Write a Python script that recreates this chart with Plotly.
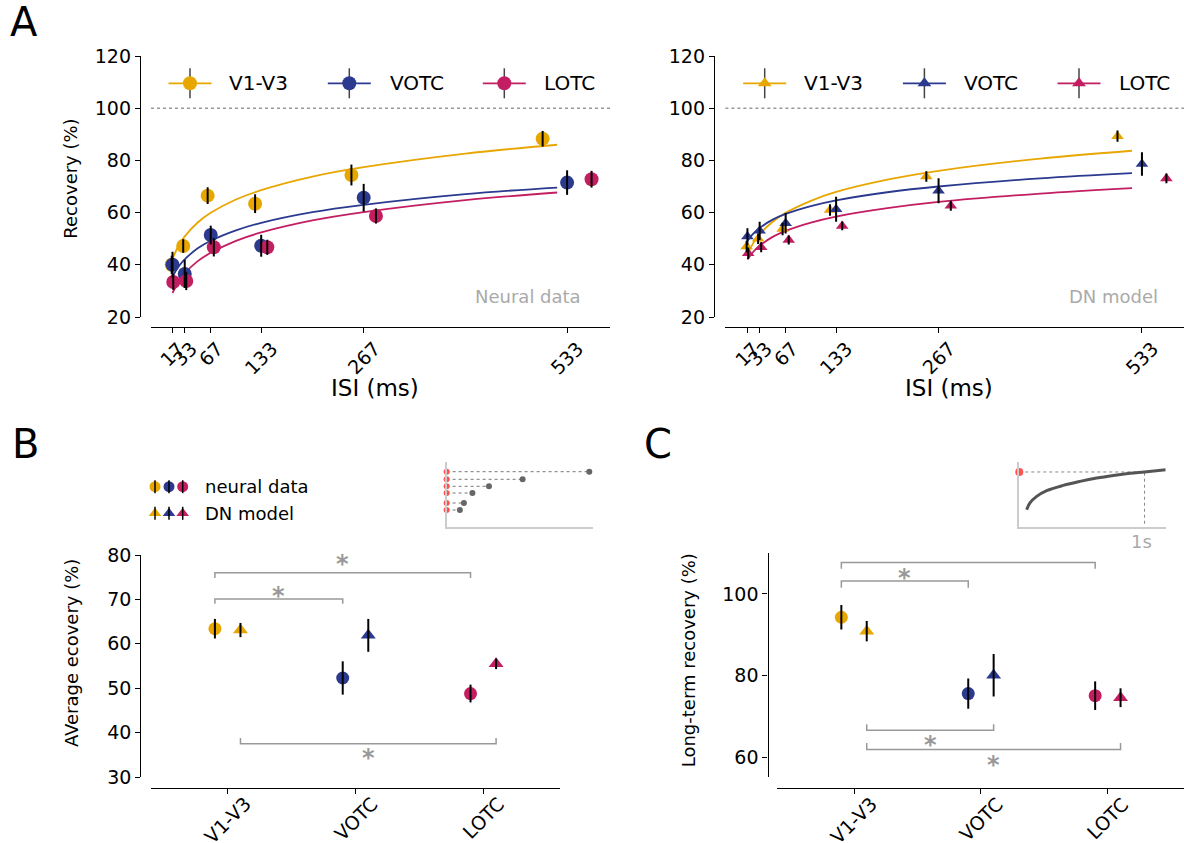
import plotly.graph_objects as go

W, H = 1184, 843


def px(x):
    return x / W


def py(y):
    return 1 - y / H


FONT = "DejaVu Sans"
REGIONS = ["V1-V3", "VOTC", "LOTC"]
COLORS = ["#E8A600", "#2B3A8F", "#C31E62"]

# ---------------- Panel A data ----------------
ISI = [17, 33, 67, 133, 267, 533]
ISI_LABELS = ["17", "33", "67", "133", "267", "533"]

neural_v1v3 = [40.0, 47.2, 66.5, 63.4, 74.4, 88.3]
neural_v1v3_err = [3.5, 2.6, 3.2, 3.6, 4.0, 3.0]
neural_votc = [40.0, 36.5, 51.4, 47.3, 65.7, 71.5]
neural_votc_err = [5.0, 5.4, 3.6, 4.2, 5.3, 4.7]
neural_lotc = [33.4, 33.8, 46.7, 46.7, 58.7, 72.8]
neural_lotc_err = [3.0, 3.5, 3.5, 2.9, 2.9, 3.2]

model_v1v3 = [47.0, 50.0, 53.7, 61.0, 73.8, 89.3]
model_v1v3_err = [2.2, 2.0, 2.4, 2.2, 2.0, 2.2]
model_votc = [50.8, 53.0, 55.9, 61.3, 68.4, 78.6]
model_votc_err = [3.2, 3.5, 3.9, 4.8, 4.8, 4.5]
model_lotc = [44.4, 46.7, 49.5, 54.9, 62.6, 73.1]
model_lotc_err = [2.2, 1.9, 1.7, 1.7, 1.9, 1.9]

# fitted curves
FIT_ISI = [17, 25, 33, 50, 67, 100, 133, 200, 267, 400, 520]
fit_neural_v1v3 = [42.3, 47.3, 50.9, 56.2, 59.9, 65.0, 68.6, 73.8, 77.4, 82.6, 86.0]
fit_neural_votc = [35.5, 39.4, 42.1, 46.3, 49.2, 53.2, 56.1, 60.2, 63.0, 67.1, 69.6]
fit_neural_lotc = [29.2, 33.5, 36.7, 41.4, 44.6, 49.2, 52.4, 57.0, 60.2, 64.8, 67.7]
fit_model_v1v3 = [44.0, 48.5, 51.7, 56.5, 59.9, 64.5, 67.9, 72.6, 76.0, 80.7, 83.7]
fit_model_votc = [49.1, 52.0, 54.1, 57.3, 59.5, 62.5, 64.7, 67.8, 70.0, 73.1, 75.1]
fit_model_lotc = [42.0, 45.1, 47.3, 50.7, 53.0, 56.2, 58.5, 61.7, 64.1, 67.3, 69.4]

# ---------------- Panel B data ----------------
avg_neural = [63.4, 52.3, 48.8]
avg_neural_err = [2.2, 3.75, 2.0]
avg_model = [63.1, 61.9, 55.5]
avg_model_err = [1.6, 3.7, 1.2]

# ---------------- Panel C data ----------------
lt_neural = [94.3, 75.6, 75.1]
lt_neural_err = [3.0, 3.7, 3.5]
lt_model = [90.9, 80.1, 74.6]
lt_model_err = [2.5, 5.2, 2.3]

# ---------------- insets ----------------
inset_b_row = [16.7, 23.7, 33.7, 40.4, 47.4, 55.0]   # rows for ISI 17..533
inset_b_stim_ms = 36
inset_c_t = [0.059, 0.085, 0.139, 0.219, 0.351, 0.485, 0.618, 0.751, 0.884, 1.0, 1.169]
inset_c_r = [0.262, 0.365, 0.466, 0.554, 0.635, 0.697, 0.749, 0.789, 0.822, 0.842, 0.875]
inset_c_long = 0.842

REGION_OFFSET_A = [0.94, 1.0, 1.06]
REGION_SHIFT = 0.1

fig = go.Figure()

axis_common = dict(showgrid=False, zeroline=False, showline=True, linecolor="black",
                   linewidth=1.3, ticks="outside", ticklen=5, tickwidth=1.3,
                   tickcolor="black", tickfont=dict(size=19, family=FONT, color="black"))

# ---------- Panel A ----------
neural_vals = [neural_v1v3, neural_votc, neural_lotc]
neural_errs = [neural_v1v3_err, neural_votc_err, neural_lotc_err]
model_vals = [model_v1v3, model_votc, model_lotc]
model_errs = [model_v1v3_err, model_votc_err, model_lotc_err]
fit_neural = [fit_neural_v1v3, fit_neural_votc, fit_neural_lotc]
fit_model = [fit_model_v1v3, fit_model_votc, fit_model_lotc]

for (xa, ya, vals, errs, fits, sym, msize) in [
    ("x", "y", neural_vals, neural_errs, fit_neural, "circle", 14),
    ("x2", "y2", model_vals, model_errs, fit_model, "triangle-up", 11),
]:
    for i in range(3):
        fig.add_trace(go.Scatter(x=FIT_ISI, y=fits[i], mode="lines", line=dict(color=COLORS[i], width=1.8, shape="spline"),
                                 xaxis=xa, yaxis=ya, hoverinfo="skip"))
    for i in range(3):
        xs = [t * REGION_OFFSET_A[i] for t in ISI]
        fig.add_trace(go.Scatter(x=xs, y=vals[i], mode="markers",
                                 marker=dict(color=COLORS[i], size=msize, symbol=sym, line=dict(width=0)),
                                 xaxis=xa, yaxis=ya, cliponaxis=False))
    for i in range(3):
        xs = [t * REGION_OFFSET_A[i] for t in ISI]
        fig.add_trace(go.Scatter(x=xs, y=vals[i], mode="markers",
                                 marker=dict(color="rgba(0,0,0,0)", size=1),
                                 error_y=dict(type="data", array=errs[i], color="black", thickness=2, width=0),
                                 xaxis=xa, yaxis=ya, cliponaxis=False))

# ---------- Panels B and C ----------
for (xa, ya, nv, ne, mv, me) in [
    ("x3", "y3", avg_neural, avg_neural_err, avg_model, avg_model_err),
    ("x4", "y4", lt_neural, lt_neural_err, lt_model, lt_model_err),
]:
    for i in range(3):
        fig.add_trace(go.Scatter(x=[i - REGION_SHIFT], y=[nv[i]], mode="markers",
                                 marker=dict(color=COLORS[i], size=13, symbol="circle"),
                                 xaxis=xa, yaxis=ya, cliponaxis=False))
        fig.add_trace(go.Scatter(x=[i + REGION_SHIFT], y=[mv[i]], mode="markers",
                                 marker=dict(color=COLORS[i], size=13, symbol="triangle-up"),
                                 xaxis=xa, yaxis=ya, cliponaxis=False))
    fig.add_trace(go.Scatter(x=[i - REGION_SHIFT for i in range(3)], y=nv, mode="markers",
                             marker=dict(color="rgba(0,0,0,0)", size=1),
                             error_y=dict(type="data", array=ne, color="black", thickness=2, width=0),
                             xaxis=xa, yaxis=ya, cliponaxis=False))
    fig.add_trace(go.Scatter(x=[i + REGION_SHIFT for i in range(3)], y=mv, mode="markers",
                             marker=dict(color="rgba(0,0,0,0)", size=1),
                             error_y=dict(type="data", array=me, color="black", thickness=2, width=0),
                             xaxis=xa, yaxis=ya, cliponaxis=False))

# ---------- Inset B ----------
red = "#FF5252"
for k, t in enumerate(ISI):
    fig.add_trace(go.Scatter(x=[0, t + inset_b_stim_ms], y=[inset_b_row[k]] * 2, mode="lines",
                             line=dict(color="#777777", width=1, dash="dot"),
                             xaxis="x5", yaxis="y5", hoverinfo="skip"))
fig.add_trace(go.Scatter(x=[t + inset_b_stim_ms for t in ISI], y=inset_b_row, mode="markers",
                         marker=dict(color="#666666", size=6), xaxis="x5", yaxis="y5", cliponaxis=False))
fig.add_trace(go.Scatter(x=[0] * len(ISI), y=inset_b_row, mode="markers",
                         marker=dict(color=red, size=6), xaxis="x5", yaxis="y5", cliponaxis=False))

# ---------- Inset C ----------
fig.add_trace(go.Scatter(x=[0, 1.0, 1.0], y=[inset_c_long, inset_c_long, 0], mode="lines",
                         line=dict(color="#888888", width=1, dash="dot"),
                         xaxis="x6", yaxis="y6", hoverinfo="skip"))
fig.add_trace(go.Scatter(x=inset_c_t, y=inset_c_r, mode="lines", line=dict(color="#555555", width=3, shape="spline"),
                         xaxis="x6", yaxis="y6", hoverinfo="skip"))
fig.add_trace(go.Scatter(x=[0], y=[inset_c_long], mode="markers", marker=dict(color=red, size=8),
                         xaxis="x6", yaxis="y6", cliponaxis=False))

# ---------- Legend glyphs (overlay in pixel space) ----------
LEG_Y = 83.3
leg_sets = [
    ([190, 349.3, 504.3], [226.7, 387.5, 542], "circle", 14),
    ([764.7, 924.4, 1079], [801.8, 962, 1117], "triangle-up", 12),
]
annotations = []
for mx, tx, sym, ms in leg_sets:
    for i in range(3):
        fig.add_trace(go.Scatter(x=[mx[i] - 21.5, mx[i] + 21.5], y=[LEG_Y, LEG_Y], mode="lines",
                                 line=dict(color=COLORS[i], width=1.8), xaxis="x7", yaxis="y7", hoverinfo="skip"))
        fig.add_trace(go.Scatter(x=[mx[i], mx[i]], y=[LEG_Y - 15, LEG_Y + 15], mode="lines",
                                 line=dict(color="#444444", width=1.5), xaxis="x7", yaxis="y7", hoverinfo="skip"))
        fig.add_trace(go.Scatter(x=[mx[i]], y=[LEG_Y], mode="markers",
                                 marker=dict(color=COLORS[i], size=ms, symbol=sym),
                                 xaxis="x7", yaxis="y7", cliponaxis=False))
        annotations.append(dict(x=px(tx[i]), y=py(LEG_Y), xref="paper", yref="paper", text=REGIONS[i],
                                showarrow=False, xanchor="left", yanchor="middle",
                                font=dict(size=20, family=FONT, color="black")))

legB_x = [155, 169, 182.7]
for row_y, sym, label in [(486.7, "circle", "neural data"), (513.3, "triangle-up", "DN model")]:
    for i in range(3):
        fig.add_trace(go.Scatter(x=[legB_x[i]], y=[row_y], mode="markers",
                                 marker=dict(color=COLORS[i], size=11, symbol=sym),
                                 xaxis="x7", yaxis="y7", cliponaxis=False))
        fig.add_trace(go.Scatter(x=[legB_x[i], legB_x[i]], y=[row_y - 6.5, row_y + 6.5], mode="lines",
                                 line=dict(color="black", width=1.5), xaxis="x7", yaxis="y7", hoverinfo="skip"))
    annotations.append(dict(x=px(202.7), y=py(row_y), xref="paper", yref="paper", text=label,
                            showarrow=False, xanchor="left", yanchor="middle",
                            font=dict(size=18, family=FONT, color="black")))

# ---------- Layout axes ----------
yA = [py(317), py(56)]
layout = dict(
    xaxis=dict(axis_common, domain=[px(151), px(610)], anchor="free", position=py(327), range=[-11.1, 589.1],
               tickvals=ISI, showticklabels=False),
    yaxis=dict(axis_common, domain=yA, anchor="free", position=px(140), range=[20, 120],
               tickvals=[20, 40, 60, 80, 100, 120]),
    xaxis2=dict(axis_common, domain=[px(725.4), 1.0], anchor="free", position=py(327), range=[-11.8, 588],
                tickvals=ISI, showticklabels=False),
    yaxis2=dict(axis_common, domain=yA, anchor="free", position=px(714), range=[20, 120],
                tickvals=[20, 40, 60, 80, 100, 120]),
    xaxis3=dict(axis_common, domain=[px(151), px(560)], anchor="free", position=py(788), range=[-0.6, 2.6],
                tickvals=[0, 1, 2], showticklabels=False),
    yaxis3=dict(axis_common, domain=[py(777), py(555)], anchor="free", position=px(140.4), range=[30, 80],
                tickvals=[30, 40, 50, 60, 70, 80]),
    xaxis4=dict(axis_common, domain=[px(777), 1.0], anchor="free", position=py(788), range=[-0.607, 2.6],
                tickvals=[0, 1, 2], showticklabels=False),
    yaxis4=dict(axis_common, domain=[py(777), py(553)], anchor="free", position=px(767.5), range=[55.18, 110.04],
                tickvals=[60, 80, 100]),
    xaxis5=dict(domain=[px(446.6), px(593)], anchor="y5", range=[0, 583.7], showgrid=False, zeroline=False,
                showline=True, linecolor="#cccccc", linewidth=2, ticks="", showticklabels=False),
    yaxis5=dict(domain=[py(526.7), py(461.7)], anchor="x5", range=[0, 65], showgrid=False, zeroline=False,
                showline=True, linecolor="#cccccc", linewidth=2, ticks="", showticklabels=False),
    xaxis6=dict(domain=[px(1019.3), px(1165.7)], anchor="y6", range=[0, 1.169], showgrid=False, zeroline=False,
                showline=True, linecolor="#cccccc", linewidth=2, ticks="", showticklabels=False),
    yaxis6=dict(domain=[py(526.7), py(461.7)], anchor="x6", range=[0, 1], showgrid=False, zeroline=False,
                showline=True, linecolor="#cccccc", linewidth=2, ticks="", showticklabels=False),
    xaxis7=dict(domain=[0, 1], anchor="y7", range=[0, W], visible=False),
    yaxis7=dict(domain=[0, 1], anchor="x7", range=[H, 0], visible=False),
)

# rotated tick labels, centred on their ticks
for xa, vals, labels, ytop in [("x", ISI, ISI_LABELS, 335), ("x2", ISI, ISI_LABELS, 335),
                                ("x3", [0, 1, 2], REGIONS, 790), ("x4", [0, 1, 2], REGIONS, 790)]:
    for v, lab in zip(vals, labels):
        annotations.append(dict(x=v, xref=xa, y=py(ytop), yref="paper", text=lab, showarrow=False,
                                textangle=-45, xanchor="center", yanchor="top",
                                font=dict(size=19, family=FONT, color="black")))

# ---------- shapes ----------
shapes = []
for xr, yr in [("x domain", "y"), ("x2 domain", "y2")]:
    shapes.append(dict(type="line", xref=xr, yref=yr, x0=0, x1=1, y0=100, y1=100,
                       line=dict(color="#999999", width=1.5, dash="dot"), layer="below"))

BR_COLOR = "#999999"
# brackets: (x0, x1, y, y_tick)
brackets_B = [(0 - REGION_SHIFT, 1 - REGION_SHIFT, 70.1, 69.0),
              (0 - REGION_SHIFT, 2 - REGION_SHIFT, 76.0, 74.8),
              (0 + REGION_SHIFT, 2 + REGION_SHIFT, 37.5, 38.8)]
stars_B = [(0.4, 71.9), (0.9, 79.0), (1.1, 35.4)]
brackets_C = [(0 - REGION_SHIFT, 1 - REGION_SHIFT, 103.2, 101.5),
              (0 - REGION_SHIFT, 2 - REGION_SHIFT, 107.7, 106.2),
              (0 + REGION_SHIFT, 1 + REGION_SHIFT, 66.6, 68.1),
              (0 + REGION_SHIFT, 2 + REGION_SHIFT, 61.9, 63.5)]
stars_C = [(0.4, 105.1), (0.9, 110.8), (0.6, 64.2), (1.1, 59.3)]
for (xa, ya, brs, sts) in [("x3", "y3", brackets_B, stars_B), ("x4", "y4", brackets_C, stars_C)]:
    for x0, x1, y, yt in brs:
        shapes.append(dict(type="path", xref=xa, yref=ya,
                           path=f"M {x0},{yt} L {x0},{y} L {x1},{y} L {x1},{yt}",
                           line=dict(color=BR_COLOR, width=1.5)))
    for sx, sy in sts:
        annotations.append(dict(x=sx, y=sy, xref=xa, yref=ya, text="<b>*</b>", showarrow=False,
                                xanchor="center", yanchor="middle", yshift=-5,
                                font=dict(size=24, family=FONT, color=BR_COLOR)))

# ---------- text annotations ----------
def txt(x, y, s, size, color="black", angle=0, xanchor="center"):
    annotations.append(dict(x=px(x), y=py(y), xref="paper", yref="paper", text=s, showarrow=False,
                            xanchor=xanchor, yanchor="middle", textangle=angle,
                            font=dict(size=size, family=FONT, color=color)))

txt(24, 22, "A", 40)
txt(25, 444, "B", 40)
txt(658, 444, "C", 40)
txt(70.4, 178.3, "Recovery (%)", 18, angle=-90)
txt(375, 388, "ISI (ms)", 23)
txt(949, 388, "ISI (ms)", 23)
txt(527.7, 296.7, "Neural data", 18, color="#aaaaaa")
txt(1113.5, 296.7, "DN model", 18, color="#aaaaaa")
txt(70.8, 653.3, "AVerage ecovery (%)", 18, angle=-90)
txt(688.3, 660, "Long-term recovery (%)", 18, angle=-90)
txt(1141, 541.7, "1s", 18, color="#aaaaaa")

fig.update_layout(**layout)
fig.update_layout(width=W, height=H, margin=dict(l=0, r=0, t=0, b=0), showlegend=False,
                  paper_bgcolor="white", plot_bgcolor="rgba(0,0,0,0)", template="none",
                  font=dict(family=FONT, color="black"),
                  shapes=shapes, annotations=annotations)

fig.write_html("out.html", config={"displayModeBar": False},
               post_script="document.body.style.margin='0';")
